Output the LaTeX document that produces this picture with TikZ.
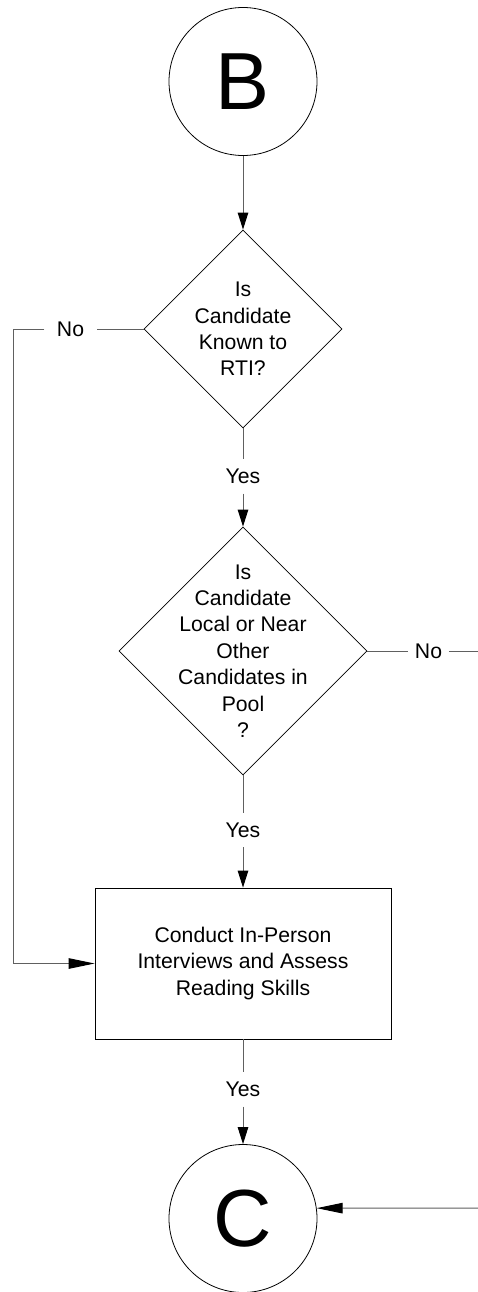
\documentclass[tikz,border=0pt]{standalone}
\usepackage{fontspec}
\setmainfont{Liberation Sans}
\usetikzlibrary{shapes.geometric}
\usetikzlibrary{arrows.meta}

\tikzset{
  txt/.style={align=center,font=\fontsize{21.2}{26.4}\selectfont},
  connector/.style={draw=gray!75!black,line width=1pt},
  vtip/.tip={Triangle[length=17pt,width=10.5pt,color=black]},
  htip/.tip={Triangle[length=26pt,width=10.5pt,color=black]},
  offpage/.style={circle,draw,line width=0.8pt,minimum size=148pt,inner sep=0pt,
    font=\fontsize{81}{81}\selectfont},
  decision/.style={diamond,draw,line width=0.8pt,aspect=1,inner sep=0pt},
  process/.style={rectangle,draw,line width=0.8pt,txt,minimum width=296pt,minimum height=151pt},
  answer/.style={txt,inner xsep=2pt,inner ysep=9.5pt},
}

\begin{document}
\begin{tikzpicture}[x=1pt,y=-1pt]
  \useasboundingbox[fill=white] (0,0) rectangle (478,1292);

  \node[offpage] (B) at (243,81.5) {B};
  \node[decision,minimum width=198pt,minimum height=198pt,
    label={[txt]center:{Is\\Candidate\\Known to\\RTI?}}] (known) at (243,329) {};
  \node[answer] (yes1) at (243,476.5) {Yes};
  \node[decision,minimum width=248pt,minimum height=248pt,
    label={[txt]center:{Is\\Candidate\\Local or Near\\Other\\Candidates in\\Pool\\?}}] (local) at (243,651) {};
  \node[answer] (yes2) at (243,830) {Yes};
  \node[process] (interview) at (243,963.5) {Conduct In-Person\\Interviews and Assess\\Reading Skills};
  \node[answer] (yes3) at (243,1089.5) {Yes};
  \node[offpage] (C) at (243,1218.5) {C};

  \node[answer,inner xsep=12.5pt] (no1) at (70.5,329) {No};
  \node[answer,inner xsep=6.5pt] (no2) at (428.5,651) {No};
  \coordinate (leftbend) at (13,329);
  \coordinate (rightout) at (478,651);
  \coordinate (rightin) at (478,1208);

  % main line
  \draw[connector,-vtip] (B) -- (known);
  \draw[connector] (known) -- (yes1);
  \draw[connector,-vtip] (yes1) -- (local);
  \draw[connector] (local) -- (yes2);
  \draw[connector,-vtip] (yes2) -- (interview);
  \draw[connector] (interview) -- (yes3);
  \draw[connector,-vtip] (yes3) -- (C);

  % side branches
  \draw[connector] (known) -- (no1);
  \draw[connector,-htip] (no1) -- (leftbend) |- (interview);
  \draw[connector] (local) -- (no2);
  \draw[connector] (no2) -- (rightout);
  \draw[connector,-htip] (rightin) -- (C.8);
\end{tikzpicture}
\end{document}
